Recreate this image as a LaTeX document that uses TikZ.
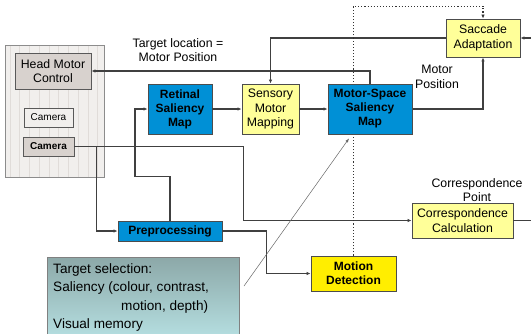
\documentclass[tikz,border=0pt]{standalone}
\usepackage{fontspec}
\setmainfont{Liberation Sans}
\usetikzlibrary{arrows.meta}

\definecolor{boxblue}{RGB}{0,144,214}
\definecolor{paleyellow}{RGB}{255,255,153}
\definecolor{brightyellow}{RGB}{255,238,0}
\definecolor{hwgray}{RGB}{216,210,206}
\definecolor{panelfill}{RGB}{241,239,237}
\definecolor{panelgrid}{RGB}{224,220,217}
\definecolor{wire}{RGB}{64,64,64}
\definecolor{selectop}{RGB}{140,168,168}
\definecolor{selectbot}{RGB}{185,228,230}

\begin{document}
\begin{tikzpicture}
[x=1pt,y=-1pt,
 every node/.style={font=\fontsize{12.3}{14.5}\selectfont},
 block/.style={shape=rectangle,draw=black!70,line width=0.9pt,align=center,inner sep=1pt},
 bluebox/.style={block,fill=boxblue,font=\fontsize{12}{14}\selectfont\bfseries},
 yelbox/.style={block,fill=paleyellow},
 motbox/.style={block,fill=brightyellow,font=\fontsize{12}{14}\selectfont\bfseries},
 hwbox/.style={block,fill=hwgray,draw=black!65},
 link/.style={draw=wire,line width=1.1pt,-{Latex[length=4pt,width=3.5pt]}},
 wireonly/.style={draw=wire,line width=1.1pt},
 trigger/.style={draw=black!80,line width=1.1pt,dotted,-{Latex[length=4pt,width=3.5pt]}},
 pointer/.style={draw=black!60,line width=0.5pt,-{Latex[length=4pt,width=3pt]}},
 caption/.style={align=center,inner sep=0pt}]

\useasboundingbox (0,0) rectangle (531,333);

% hardware panel with grid
\fill[panelfill] (5,45) rectangle (104,177);
\begin{scope}
\clip (5,45) rectangle (104,177);
\draw[panelgrid,line width=0.4pt,step=9.75] (0,40) grid (110,180);
\end{scope}
\draw[black!45,line width=1pt] (5,45) rectangle (104,177);

\node (headctl) [hwbox,minimum width=76pt,minimum height=36pt] at (53,71) {Head Motor\\Control};
\node (camA) [block,fill=panelfill,draw=black!65,minimum width=49pt,minimum height=19pt,font=\fontsize{10}{12}\selectfont] at (48.5,117.5) {Camera};
\node (camB) [hwbox,minimum width=51pt,minimum height=19pt,font=\fontsize{10}{12}\selectfont\bfseries] at (48.5,146.5) {Camera};

% processing blocks
\node (retinal) [bluebox,minimum width=64pt,minimum height=50pt] at (180,109) {Retinal\\Saliency\\Map};
\node (sensory) [yelbox,minimum width=57pt,minimum height=50pt] at (270.5,109) {Sensory\\Motor\\Mapping};
\node (motorspace) [bluebox,minimum width=84pt,minimum height=50pt] at (370,109) {Motor-Space\\Saliency\\Map};
\node (saccade) [yelbox,minimum width=74pt,minimum height=38pt] at (483,38) {Saccade\\Adaptation};
\node (prep) [bluebox,minimum width=104pt,minimum height=20pt] at (170,231) {Preprocessing};
\node (motion) [motbox,minimum width=85pt,minimum height=35pt] at (353.5,273.5) {Motion\\Detection};
\node (corresp) [yelbox,minimum width=101pt,minimum height=35pt] at (462.5,220.5) {Correspondence\\Calculation};

% target selection note
\shade[top color=selectop,bottom color=selectbot] (47,257) rectangle (239,345);
\draw[black!50,line width=0.8pt] (47,257) rectangle (239,345);
\node (targetsel) [anchor=north west,align=left,inner sep=0pt,font=\fontsize{13.6}{18.5}\selectfont] at (53,263)
  {Target selection:\\Saliency (colour, contrast,\\\hspace*{68pt}motion, depth)\\Visual memory};

% labels
\node (lblTarget) [caption] at (178,50) {Target location =\\Motor Position};
\node (lblMotor) [caption] at (437,77) {Motor\\Position};
\node (lblCorr) [caption] at (477,190) {Correspondence\\Point};

% free ends
\coordinate (inSacc) at (531,38);
\coordinate (outCorr) at (531,220.5);
\coordinate (selTip) at (244,286);

% connectors
\draw[link] (saccade.west) -| (sensory.north);
\draw[link] (motorspace.north) |- (headctl.east);
\draw[link] (retinal.east) -- (sensory.west);
\draw[link] (sensory.east) -- (motorspace.west);
\draw[link] (motorspace.east) -| (saccade.south);
\draw[link] (inSacc) -- (saccade.east);
\draw[link] (camB.east) -- ++(169,0) |- (corresp.west);
\draw[link] (camB.east) -- ++(22,0) |- (prep.west);
\draw[link] (prep.north) -- ++(0,-44) -- ++(-35,0) |- (retinal.west);
\draw[link] (prep.east) -- ++(44,0) |- (motion.west);
\draw[wireonly] (corresp.east) -- (outCorr);
\draw[trigger] (motion.north) -- ++(0,-249.5) -| (saccade.north);
\draw[pointer] (selTip) -- ([xshift=-21pt,yshift=-4pt]motorspace.south);

% redraw boxes crossed by the dotted line
\node [bluebox,minimum width=84pt,minimum height=50pt] at (motorspace) {Motor-Space\\Saliency\\Map};
\end{tikzpicture}
\end{document}
